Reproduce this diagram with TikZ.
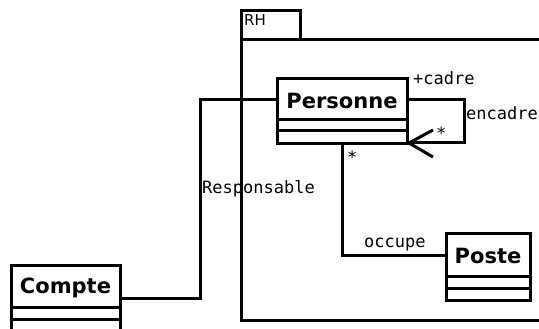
\documentclass[tikz,border=0pt]{standalone}
\usepackage{fontspec}
\setmainfont{DejaVu Sans}
\newfontfamily\monof{DejaVu Sans Mono}
\begin{document}
\begin{tikzpicture}[x=1pt,y=-1pt,
  lw/.style={line width=3pt, line join=miter},
  clsbox/.style={draw, line width=3pt, anchor=north west, inner sep=0pt, outer sep=0pt},
  cname/.style={font=\fontsize{21}{24}\selectfont\bfseries, inner sep=0pt},
  lbl/.style={font=\fontsize{17}{20}\monof, inner sep=0pt}]
\useasboundingbox (0,0) rectangle (539,329);
% package RH
\draw[lw] (241,40) rectangle (300,11);
\node[font=\fontsize{15}{18}\selectfont, anchor=west, inner sep=0pt] (rh) at (244,20) {RH};
\draw[lw] (560,40) -- (241,40) -- (241,320) -- (560,320);
% Personne
\node[clsbox, minimum width=130pt, minimum height=65pt] (P) at (277,79) {};
\draw[lw] (277,120) -- (407,120);
\draw[lw] (277,131) -- (407,131);
\node[cname] (Pn) at (342,101) {Personne};
% Compte
\node[clsbox, minimum width=109pt, minimum height=80pt] (C) at (11,265) {};
\draw[lw] (11,307) -- (120,307);
\draw[lw] (11,319) -- (120,319);
\node[cname] (Cn) at (65.5,288) {Compte};
% Poste
\node[clsbox, minimum width=84pt, minimum height=67pt] (Q) at (446,233) {};
\draw[lw] (446,276) -- (530,276);
\draw[lw] (446,288) -- (530,288);
\node[cname] (Qn) at (488,256) {Poste};
% Responsable
\draw[lw] (P.west |- 0,100) -- (200,100) -- (200,298) -- (C.east |- 0,298);
\node[lbl, anchor=west] (resp) at (202,189) {Responsable};
% encadre self-association
\draw[lw] (P.east |- 0,100) -- (464,100) -- (464,143) -- (P.east |- 0,143);
\draw[lw] (433,130) -- ([xshift=2pt]P.east |- 0,143) -- (433,157);
\node[lbl, anchor=west] (cadre) at (413,78) {+cadre};
\node[lbl, anchor=west] (enc) at (466,113) {encadre};
\node[lbl, anchor=west] (s1) at (436,133) {*};
% occupe
\draw[lw] (P.south -| 342,0) -- (342,255) -- (Q.west |- 0,255);
\node[lbl, anchor=west] (s2) at (347,157) {*};
\node[lbl, anchor=west] (occ) at (364,245) {occupe};
\end{tikzpicture}
\end{document}
